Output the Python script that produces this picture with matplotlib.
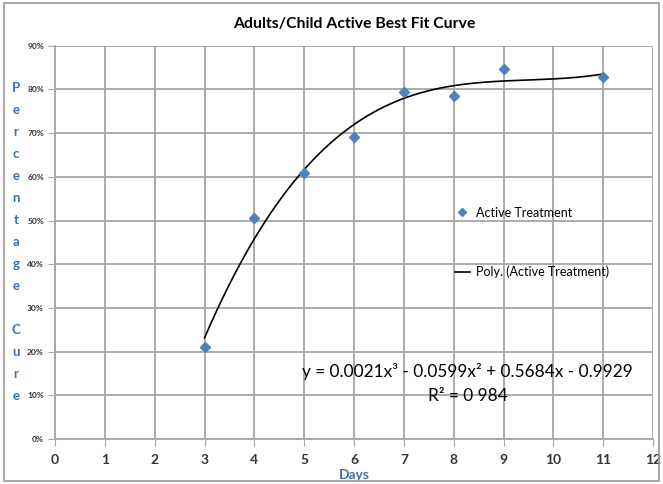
import numpy as np
import matplotlib
matplotlib.use("Agg")
import matplotlib.pyplot as plt
from matplotlib.ticker import PercentFormatter
from matplotlib.patches import Rectangle

plt.rcParams['font.family'] = ['Lato', 'DejaVu Sans']

# data
days = [3, 4, 5, 6, 7, 8, 9, 11]
cure = [0.21, 0.505, 0.608, 0.69, 0.794, 0.786, 0.847, 0.829]
eq_text = "y = 0.0021x³ - 0.0599x² + 0.5684x - 0.9929"
r2_text = "R² = 0 984"
ylab = "Percentage Cure"

blue = "#4f81bd"
label_blue = "#3a6fb5"
grid_gray = "#a6a6a6"

fig = plt.figure(figsize=(6.63, 4.84), dpi=100)
ax = fig.add_axes([0.083, 0.093, 0.902, 0.8125])

# 3rd order poly trend line
coef = np.polyfit(days, cure, 3)
xs = np.linspace(min(days), max(days), 200)
ax.plot(xs, np.polyval(coef, xs), color="black", lw=1.2, zorder=3,
        label="Poly. (Active Treatment)")
ax.plot(days, cure, linestyle="none", marker="D", ms=5, color=blue,
        zorder=4, label="Active Treatment")

ax.set_xlim(0, 12)
ax.set_ylim(0, 0.9)
ax.set_xticks(range(0, 13))
ax.set_yticks(np.arange(0, 0.91, 0.1))
ax.yaxis.set_major_formatter(PercentFormatter(1.0, decimals=0))
ax.grid(True, color=grid_gray, lw=1.3)
ax.set_axisbelow(True)
for s in ax.spines.values():
    s.set_visible(False)
ax.spines['left'].set_visible(True)
ax.spines['bottom'].set_visible(True)
ax.spines['left'].set_color(grid_gray)
ax.spines['bottom'].set_color(grid_gray)
ax.spines['left'].set_linewidth(1.3)
ax.spines['bottom'].set_linewidth(1.3)
ax.tick_params(axis='x', length=5, color=grid_gray, labelsize=10, pad=6)
ax.tick_params(axis='y', length=5, color=grid_gray, labelsize=6, pad=3)
for t in ax.get_xticklabels() + ax.get_yticklabels():
    t.set_fontweight('bold')
    t.set_color('#333333')

ax.set_title("Adults/Child Active Best Fit Curve", fontsize=11.3, fontweight='bold', pad=13)
ax.set_xlabel("Days", fontsize=10, fontweight='bold', color=label_blue, labelpad=2)

# stacked vertical y label
fig.text(0.024, 0.5, "\n".join(ylab), ha='center', va='center', fontsize=9.5,
         fontweight='bold', color=label_blue, linespacing=2.0)

h, l = ax.get_legend_handles_labels()
ax.legend(h[::-1], l[::-1], loc='center left', bbox_to_anchor=(0.65, 0.5),
          frameon=False, fontsize=9, labelspacing=3.75, handlelength=1.2,
          handletextpad=0.5, markerscale=0.8)

ax.text(0.69, 0.141, eq_text + "\n" + r2_text, transform=ax.transAxes,
        ha='center', va='center', fontsize=12.4, linespacing=1.55)

fig.patches.append(Rectangle((0.006, 0.006), 0.988, 0.988, transform=fig.transFigure,
                             fill=False, edgecolor='#9a9a9a', lw=1.2))

fig.savefig("out.png", dpi=100)
